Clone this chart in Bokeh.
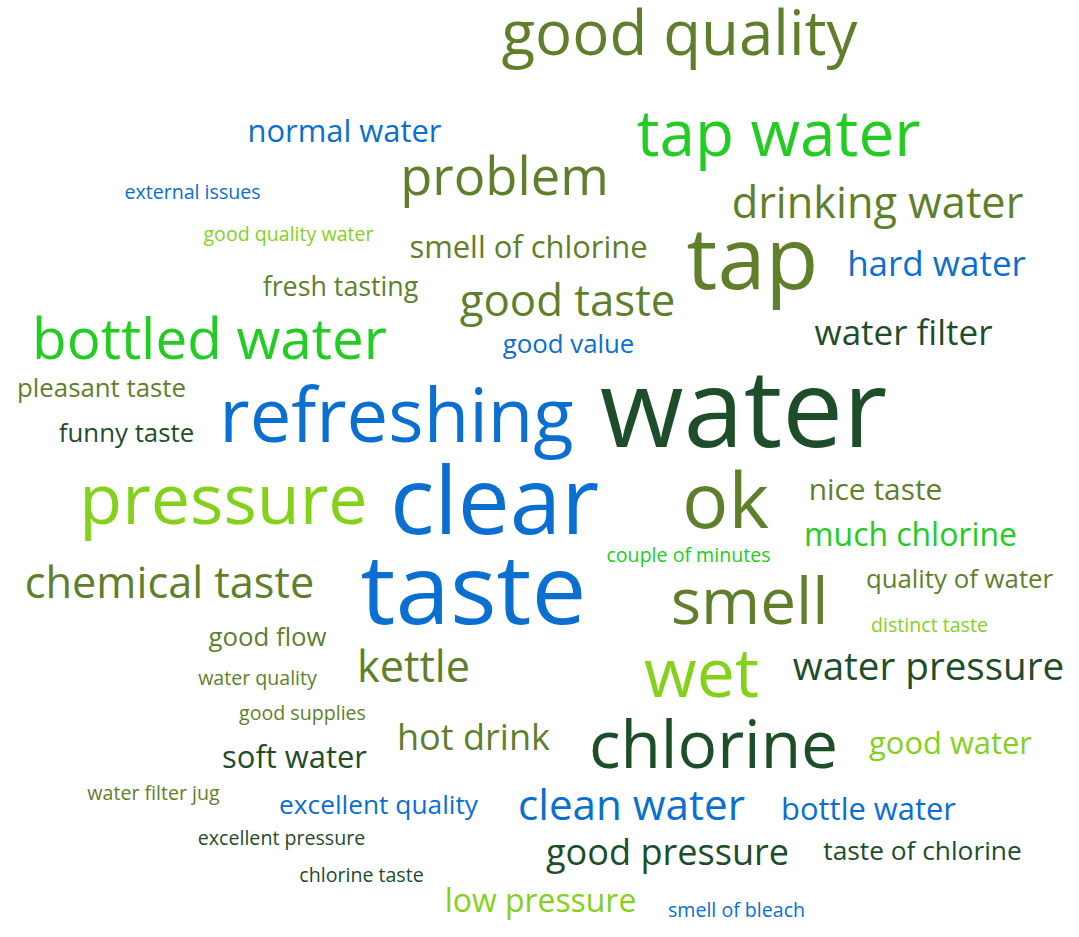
from bokeh.plotting import figure
from bokeh.models import ColumnDataSource, Range1d
from bokeh.core.properties import value
from bokeh.embed import file_html
from bokeh.resources import INLINE

# ---- data: words, their weight (frequency score) and colour group ----
words = [
    "good quality", "normal water", "tap water", "problem", "external issues",
    "drinking water", "good quality water", "smell of chlorine", "tap", "hard water",
    "fresh tasting", "good taste", "bottled water", "water filter", "good value",
    "pleasant taste", "refreshing", "funny taste", "water", "pressure",
    "clear", "ok", "nice taste", "much chlorine", "couple of minutes",
    "chemical taste", "taste", "quality of water", "smell", "distinct taste",
    "good flow", "kettle", "wet", "water pressure", "water quality",
    "good supplies", "hot drink", "chlorine", "good water", "soft water",
    "water filter jug", "excellent quality", "clean water", "bottle water", "excellent pressure",
    "good pressure", "taste of chlorine", "chlorine taste", "low pressure", "smell of bleach",
]
weights = [
    60, 30, 62, 51, 19,
    42, 19, 30, 84, 34,
    26, 42.5, 55, 34, 25,
    25, 72, 25, 105, 68,
    90, 75, 29, 31, 19,
    42, 95, 25, 62, 19,
    25, 42, 66, 37.5, 19,
    19, 35, 64, 30, 30,
    19, 25.5, 41, 30, 19,
    35, 25.5, 19, 31, 19,
]
groups = [
    "olive", "blue", "green", "olive", "blue",
    "olive", "lime", "olive", "olive", "blue",
    "olive", "olive", "green", "dark", "blue",
    "olive", "blue", "dark", "dark", "lime",
    "blue", "olive", "olive", "green", "green",
    "olive", "blue", "olive", "olive", "lime",
    "olive", "olive", "lime", "dark", "olive",
    "olive", "olive", "dark", "lime", "dark",
    "olive", "blue", "blue", "blue", "dark",
    "dark", "dark", "dark", "lime", "blue",
]

# ---- layout (word-cloud placement, picture pixels: centre x, baseline y) ----
pos_x = [
    679, 344, 778, 504, 192,
    877, 288, 528, 752, 936,
    340, 567, 209, 903, 568,
    101, 396, 126, 743, 223,
    494, 725, 875, 910, 688,
    169, 473, 959, 749, 929,
    267, 413, 701, 928, 257,
    302, 473, 713, 950, 294,
    153, 378, 631, 868, 281,
    667, 922, 361, 540, 736,
]
pos_y = [
    55, 142, 157, 195, 199,
    218, 241, 258, 290, 276,
    296, 316, 360, 345, 353,
    397, 443, 442, 448, 525,
    535, 528, 500, 546, 562,
    598, 625, 588, 625, 632,
    646, 682, 697, 680, 685,
    720, 750, 768, 754, 768,
    800, 814, 820, 820, 845,
    865, 860, 882, 912, 917,
]

SIZE_SCALE = 1.03      # px per weight unit
BASE_SHIFT = -0.4      # baseline correction, in em

palette = {
    "olive": "#5f7f2b",
    "dark": "#1d4e29",
    "blue": "#0a6fd0",
    "green": "#22cc22",
    "lime": "#84d11c",
}

sizes = [w * SIZE_SCALE for w in weights]
source = ColumnDataSource(dict(
    word=words,
    x=pos_x,
    y=pos_y,
    size=[f"{s:.1f}px" for s in sizes],
    yoff=[BASE_SHIFT * s for s in sizes],
    color=[palette[g] for g in groups],
))

p = figure(width=1063, height=921, output_backend="svg", toolbar_location=None,
           x_range=Range1d(0, 1063), y_range=Range1d(921, 0),
           min_border=0, min_border_left=0, min_border_right=0,
           min_border_top=0, min_border_bottom=0)
p.axis.visible = False
p.grid.visible = False
p.outline_line_color = None
p.background_fill_color = "white"
p.border_fill_color = "white"

p.text(x="x", y="y", text="word", source=source, y_offset="yoff",
       text_font=value("Open Sans"), text_font_size="size",
       text_color="color", text_align="center", text_baseline="alphabetic")

open("out.html", "w").write(file_html(p, INLINE))
